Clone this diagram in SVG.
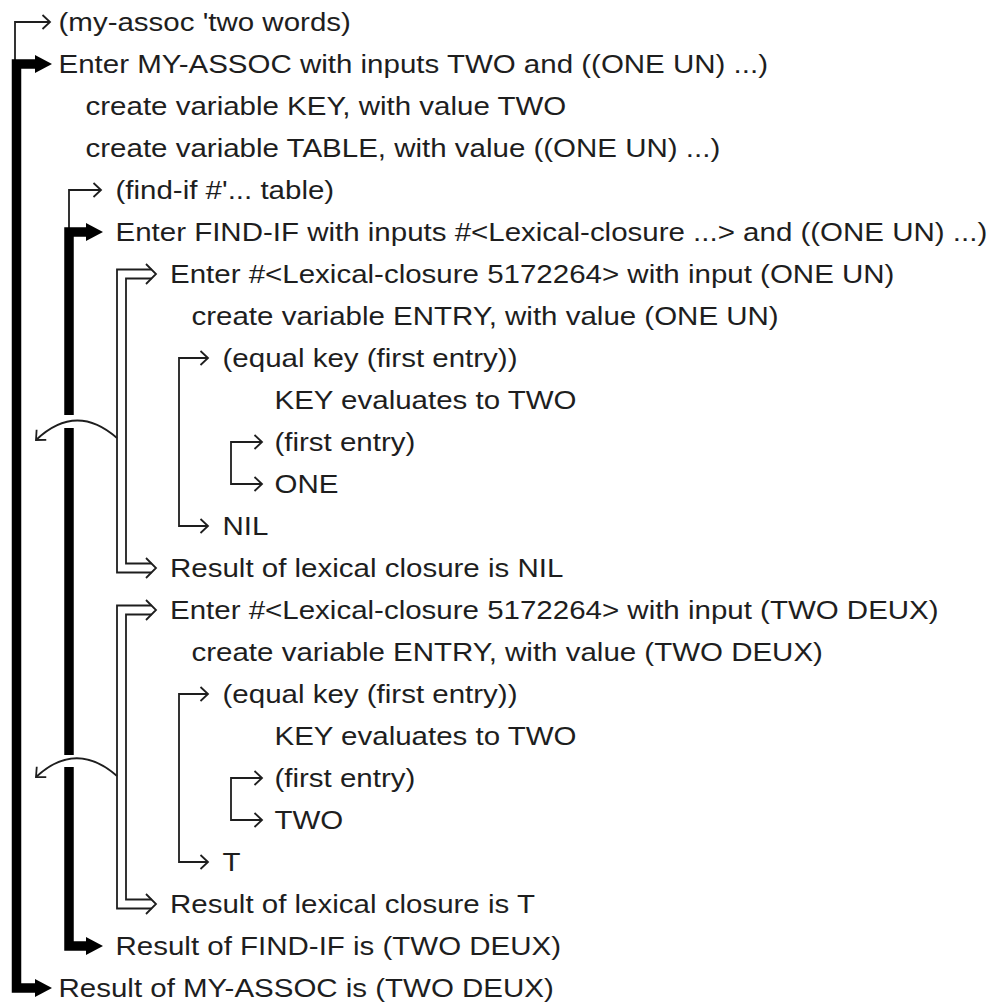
<svg xmlns="http://www.w3.org/2000/svg" width="989" height="1007" viewBox="0 0 989 1007">
<style>
text{font-family:"Liberation Sans",Arial,sans-serif;font-size:25px;fill:#1e1e1e}
.t{fill:none;stroke:#1e1e1e;stroke-width:1.8}
.k{fill:none;stroke:#000;stroke-width:9.5;stroke-linejoin:miter}
.h{fill:#000}
.a{fill:none;stroke:#1e1e1e;stroke-width:1.8;marker-end:url(#ar)}
.b{fill:none;stroke:#1e1e1e;stroke-width:1.8;marker-start:url(#ar);marker-end:url(#ar)}
</style>
<defs>
<marker id="ar" markerUnits="userSpaceOnUse" viewBox="0 0 20 20" markerWidth="20" markerHeight="20" refX="10" refY="10" orient="auto-start-reverse">
<path d="M2.5,3 L10,10 L2.5,17" fill="none" stroke="#1e1e1e" stroke-width="1.8"/>
</marker>
</defs>
<rect width="989" height="1007" fill="#fff"/>
<g id="connectors">
<path class="a" d="M15,64 V22 H50"/>
<path class="k" d="M40,64 H16.5 V988 H40"/>
<polygon class="h" points="35,55 52,64 35,73"/>
<polygon class="h" points="35,979 52,988 35,997"/>
<path class="a" d="M69,232 V190 H101"/>
<path class="k" d="M92,232 H69 V415"/>
<path class="k" d="M69,428 V755"/>
<path class="k" d="M69,767 V946 H92"/>
<polygon class="h" points="86,223 103,232 86,241"/>
<polygon class="h" points="86,937 103,946 86,955"/>
<path class="t" d="M151.5,269.5 H117 V572.5 H151.5"/>
<path class="t" d="M151.5,278.5 H126 V563.5 H151.5"/>
<path class="t" d="M146,264 L156,274 L146,284"/>
<path class="t" d="M146,558 L156,568 L146,578"/>
<path class="t" d="M151.5,605.5 H117 V908.5 H151.5"/>
<path class="t" d="M151.5,614.5 H126 V899.5 H151.5"/>
<path class="t" d="M146,600 L156,610 L146,620"/>
<path class="t" d="M146,894 L156,904 L146,914"/>
<path class="a" d="M117,438 Q76,402 36,440"/>
<path class="a" d="M117,776 Q76,740 36,777"/>
<path class="b" d="M208,358 H179 V526 H208"/>
<path class="b" d="M262,442 H231 V484 H262"/>
<path class="b" d="M208,694 H179 V862 H208"/>
<path class="b" d="M262,778 H231 V820 H262"/>
</g>
<g transform="scale(1.18 1)">
<g id="n0"><text x="49.6" y="31">(my-assoc 'two words)</text></g>
<g id="n1"><text x="49.6" y="73">Enter MY-ASSOC with inputs TWO and ((ONE UN) ...)</text></g>
<g id="n2"><text x="72.5" y="115">create variable KEY, with value TWO</text></g>
<g id="n3"><text x="72.5" y="157">create variable TABLE, with value ((ONE UN) ...)</text></g>
<g id="n4"><text x="97.9" y="199">(find-if #'... table)</text></g>
<g id="n5"><text x="97.9" y="241">Enter FIND-IF with inputs #&lt;Lexical-closure ...&gt; and ((ONE UN) ...)</text></g>
<g id="n6"><text x="144.1" y="283">Enter #&lt;Lexical-closure 5172264&gt; with input (ONE UN)</text></g>
<g id="n7"><text x="162.3" y="325">create variable ENTRY, with value (ONE UN)</text></g>
<g id="n8"><text x="188.6" y="367">(equal key (first entry))</text></g>
<g id="n9"><text x="232.6" y="409">KEY evaluates to TWO</text></g>
<g id="n10"><text x="232.6" y="451">(first entry)</text></g>
<g id="n11"><text x="232.6" y="493">ONE</text></g>
<g id="n12"><text x="188.6" y="535">NIL</text></g>
<g id="n13"><text x="144.1" y="577">Result of lexical closure is NIL</text></g>
<g id="n14"><text x="144.1" y="619">Enter #&lt;Lexical-closure 5172264&gt; with input (TWO DEUX)</text></g>
<g id="n15"><text x="162.3" y="661">create variable ENTRY, with value (TWO DEUX)</text></g>
<g id="n16"><text x="188.6" y="703">(equal key (first entry))</text></g>
<g id="n17"><text x="232.6" y="745">KEY evaluates to TWO</text></g>
<g id="n18"><text x="232.6" y="787">(first entry)</text></g>
<g id="n19"><text x="232.6" y="829">TWO</text></g>
<g id="n20"><text x="188.6" y="871">T</text></g>
<g id="n21"><text x="144.1" y="913">Result of lexical closure is T</text></g>
<g id="n22"><text x="97.9" y="955">Result of FIND-IF is (TWO DEUX)</text></g>
<g id="n23"><text x="49.6" y="997">Result of MY-ASSOC is (TWO DEUX)</text></g>
</g>
</svg>
